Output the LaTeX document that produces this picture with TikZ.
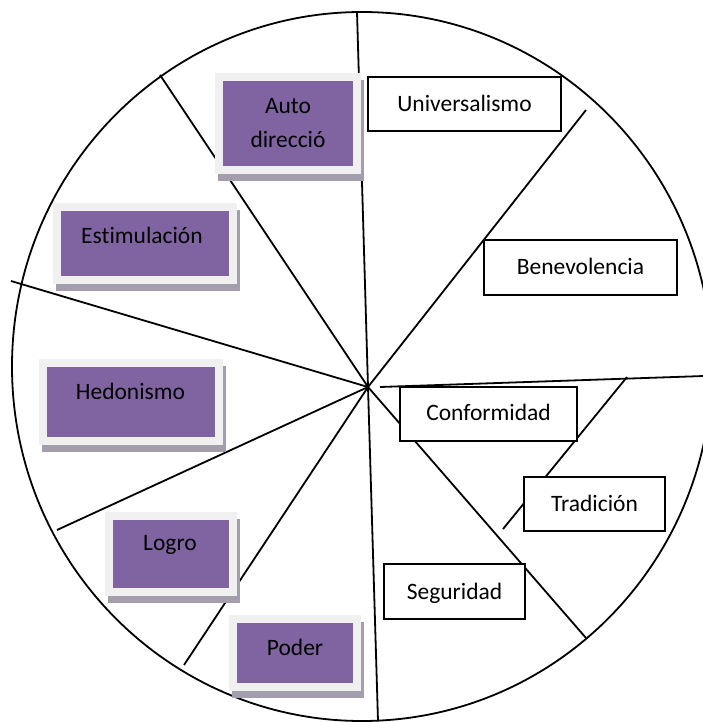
\documentclass[tikz,border=0pt]{standalone}
\usepackage{fontspec}
\setmainfont{Carlito}[Ligatures=CommonOff]
\definecolor{boxpurple}{HTML}{8064A2}
\definecolor{framegray}{HTML}{F0F0F0}
\definecolor{shadowgray}{HTML}{A49DAC}
\newcommand\purplebox[5]{%
  \node[shadowbox, minimum width=#4pt+8pt, minimum height=#5pt+8pt] (#1-sh) at (#2+3,#3+7) {};
  \node[pbox, minimum width=#4pt, minimum height=#5pt] (#1) at (#2,#3) {};}
\begin{document}
\begin{tikzpicture}[x=1pt,y=-1pt,
  spoke/.style={line width=1.8pt},
  wbox/.style={draw=black, line width=2pt, fill=white, inner sep=0pt},
  pbox/.style={fill=boxpurple, draw=framegray, line width=8pt, inner sep=0pt},
  shadowbox/.style={fill=shadowgray, inner sep=0pt},
  lbl/.style={font=\fontsize{23.5}{34}\selectfont, text=black, inner sep=0pt, anchor=base}]
\useasboundingbox (0,0) rectangle (702,722);
\fill[white] (0,0) rectangle (702,722);
% wheel
\draw[line width=1.8pt] (362,366.5) ellipse [x radius=350pt, y radius=354.5pt];
\coordinate (c) at (368,387);
\coordinate (e1) at (357,12);
\coordinate (e1b) at (378,721);
\coordinate (e2) at (160,75);
\coordinate (e3) at (11,281);
\coordinate (e4) at (57,530);
\coordinate (e5) at (184,665);
\coordinate (e6) at (586,110);
\coordinate (e7) at (586,638);
\coordinate (h1) at (380,387);
\coordinate (h2) at (704,376);
\coordinate (t1) at (627,377);
\coordinate (t2) at (503,529);
\draw[spoke] (e1) -- (c) -- (e1b);
\draw[spoke] (e2) -- (c);
\draw[spoke] (e3) -- (c);
\draw[spoke] (e4) -- (c);
\draw[spoke] (e5) -- (c);
\draw[spoke] (e6) -- (c);
\draw[spoke] (c) -- (e7);
\draw[spoke] (h1) -- (h2);
\draw[spoke] (t1) -- (t2);
% white boxes
\node[wbox, minimum width=193pt, minimum height=54pt] (univ) at (464.5,104) {};
\node[wbox, minimum width=193pt, minimum height=55pt] (bene) at (580.5,267.5) {};
\node[wbox, minimum width=177pt, minimum height=54pt] (conf) at (488.5,414) {};
\node[wbox, minimum width=141pt, minimum height=54pt] (trad) at (594.5,504) {};
\node[wbox, minimum width=141pt, minimum height=55pt] (segu) at (454.5,591.5) {};
\node[lbl] (univ-t) at (464.5,111.7) {Universalismo};
\node[lbl] (bene-t) at (580.5,274.9) {Benevolencia};
\node[lbl] (conf-t) at (488.5,420) {Conformidad};
\node[lbl] (trad-t) at (594.5,511) {Tradición};
\node[lbl] (segu-t) at (454.5,599.3) {Seguridad};
% purple boxes
\purplebox{auto}{288}{123.5}{138}{93}
\purplebox{esti}{145}{243.5}{176}{73}
\purplebox{hedo}{131}{401.75}{176}{77.5}
\purplebox{logr}{171}{553.5}{124}{76}
\purplebox{pode}{295}{653}{124}{68}
\node[lbl, anchor=center, align=center] (auto-t) at (288,122.8) {Auto\\direcció};
\node[lbl] (esti-t) at (142,243.3) {Estimulación};
\node[lbl] (hedo-t) at (130.5,399.3) {Hedonismo};
\node[lbl] (logr-t) at (170,550.7) {Logro};
\node[lbl] (pode-t) at (295,655) {Poder};
\end{tikzpicture}
\end{document}
